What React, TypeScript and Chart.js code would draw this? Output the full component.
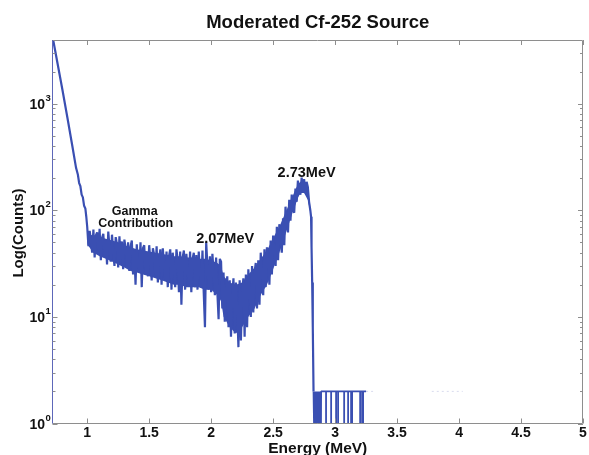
import React, { useEffect, useRef } from "react";
import { Chart, registerables } from "chart.js";

Chart.register(...registerables);

// ---------- text ----------
const TITLE = "Moderated Cf-252 Source";
const X_TITLE = "Energy (MeV)";
const Y_TITLE = "Log(Counts)";

// ---------- axes ----------
const X_MIN = 0.72;
const X_MAX = 5;
const Y_MIN = 1;
const Y_MAX = 3950;
const X_TICKS = [1, 1.5, 2, 2.5, 3, 3.5, 4, 4.5, 5];
const X_TICK_LABELS = ["1", "1.5", "2", "2.5", "3", "3.5", "4", "4.5", "5"];
const Y_DECADES = [1, 10, 100, 1000];
const Y_TICK_EXPONENTS = ["0", "1", "2", "3"];

// ---------- data ----------
// steep low-energy part (MeV, counts)
const steepEnergy = [0.715, 0.76, 0.8, 0.84, 0.88, 0.91, 0.925, 0.935, 0.945, 0.955, 0.965, 0.975, 0.985, 0.993];
const steepCounts = [4600, 2400, 1350, 740, 400, 250, 215, 180, 168, 140, 132, 110, 104, 86];

// noisy region, bins of 0.01 MeV starting at 1.00 MeV
const NOISY_START = 1.0;
const NOISY_BIN = 0.01;
const noisyCounts = [
  70, 46, 64, 52, 40, 66, 36, 58, 62, 41,
  67, 34, 55, 60, 37, 52, 31, 63, 45, 33,
  59, 40, 30, 56, 48, 29, 57, 35, 51, 28,
  53, 44, 30, 50, 27, 46, 52, 25, 42, 20,
  48, 30, 26, 50, 19, 44, 47, 25, 40, 24,
  47, 33, 22, 44, 38, 24, 46, 21, 35, 43,
  20, 44, 30, 22, 41, 19, 37, 43, 18, 40,
  28, 19, 43, 34, 17, 41, 13, 36, 42, 18,
  39, 27, 20, 41, 17, 35, 40, 19, 38, 18,
  41, 25, 19, 42, 17, 8, 50, 30, 18, 37,
  17, 39, 26, 16, 36, 17, 9.5, 35, 33, 12,
  26, 9, 18, 24, 8, 22, 6.5, 16, 23, 7,
  21, 12, 5.2, 22, 6, 17, 23, 6.5, 25, 8,
  28, 17, 10, 30, 11, 26, 32, 12, 34, 13,
  40, 26, 16, 43, 19, 45, 33, 20, 52, 25,
  58, 42, 30, 70, 34, 74, 52, 40, 84, 47,
  108, 75, 62, 125, 80, 140, 100, 95, 160, 120,
  190, 150, 140, 202, 155, 196, 145, 185, 165, 120,
  100,
];

// dense core of the noisy band (upper and lower edge of the solid part)
const coreEnergy = [
  1.0, 1.05, 1.1, 1.15, 1.2, 1.25, 1.3, 1.35, 1.4, 1.45, 1.5, 1.55, 1.6, 1.65, 1.7, 1.75, 1.8, 1.85, 1.9, 1.95,
  2.0, 2.05, 2.08, 2.1, 2.15, 2.2, 2.25, 2.3, 2.35, 2.4, 2.45, 2.5, 2.55, 2.6, 2.65, 2.7, 2.72, 2.75, 2.78, 2.8,
];
const coreUpper = [
  60, 58, 56, 54, 52, 50, 47, 45, 43, 42, 41, 40, 39, 38, 37, 37, 36, 36, 35, 35,
  34, 32, 30, 24, 21, 20, 21, 25, 29, 35, 42, 55, 70, 95, 130, 175, 185, 180, 155, 110,
];
const coreLower = [
  48, 40, 37, 35, 33, 31, 29, 27, 26, 25, 24, 23, 22, 21, 20, 20, 19, 19, 19, 18,
  18, 16, 14, 10, 8, 7, 8, 10, 12, 16, 20, 28, 40, 60, 90, 130, 145, 145, 125, 95,
];

// falling edge after the 2.73 MeV peak
const fallEnergy = [2.806, 2.81, 2.815, 2.82, 2.826];
const fallCounts = [87, 45, 21, 8, 2];

// high-energy tail: floor of 2 counts with drops to 1
const tailEnergy = [
  2.826, 2.83, 2.834, 2.838, 2.842, 2.846, 2.85, 2.854, 2.858, 2.862, 2.866, 2.87, 2.874, 2.878, 2.882, 2.886, 2.887,
  2.927, 2.927, 2.927,
  2.968, 2.968, 2.968,
  3.008, 3.008, 3.008,
  3.024, 3.024, 3.024,
  3.073, 3.073, 3.073,
  3.105, 3.105, 3.105,
  3.129, 3.129, 3.129,
  3.137, 3.137, 3.137,
  3.202, 3.202, 3.202,
  3.218, 3.218, 3.218,
  3.226, 3.226, 3.226,
  3.25,
];
const tailCounts = [
  2, 1, 2, 1, 2, 1, 2, 1, 2, 1, 2, 1, 2, 1, 2, 1, 2,
  2, 1, 2,
  2, 1, 2,
  2, 1, 2,
  2, 1, 2,
  2, 1, 2,
  2, 1, 2,
  2, 1, 2,
  2, 1, 2,
  2, 1, 2,
  2, 1, 2,
  2, 1, 2,
  2,
];

// faint remnants of the floor line
const faintEnergy = [3.25, 3.33, 3.33, 3.78, 4.03];
const faintCounts = [2, 2, null, 2, 2];

// annotations (data coordinates)
const annotationText = ["2.73MeV", "2.07MeV", "Gamma", "Contribution"];
const annotationEnergy = [2.77, 2.113, 1.383, 1.391];
const annotationCounts = [204, 49.2, 90, 69.5];

const LINE_COLOR = "#3a4fb2";
const FONT = "'Liberation Sans', Arial, Helvetica, sans-serif";

function pairs(xs: number[], ys: (number | null)[]) {
  return xs.map((x, i) => ({ x, y: ys[i] }));
}

const overlayPlugin = {
  id: "matlabOverlay",
  afterDraw(chart: any) {
    const { ctx, chartArea: a, scales } = chart;
    const xs = scales.x;
    const ys = scales.y;
    ctx.save();

    // box
    ctx.lineWidth = 1;
    ctx.strokeStyle = "#8e8e8e";
    ctx.beginPath();
    ctx.moveTo(a.left, a.top + 0.5);
    ctx.lineTo(a.right - 0.5, a.top + 0.5);
    ctx.lineTo(a.right - 0.5, a.bottom);
    ctx.lineTo(a.left, a.bottom);
    ctx.stroke();
    ctx.strokeStyle = "#5d67b9";
    ctx.beginPath();
    ctx.moveTo(a.left, a.top);
    ctx.lineTo(a.left, a.bottom);
    ctx.stroke();

    // x ticks (inward, bottom & top)
    ctx.strokeStyle = "#8e8e8e";
    ctx.beginPath();
    X_TICKS.forEach((v) => {
      const px = Math.round(xs.getPixelForValue(v)) + 0.5;
      ctx.moveTo(px, a.bottom);
      ctx.lineTo(px, a.bottom - 5);
      ctx.moveTo(px, a.top);
      ctx.lineTo(px, a.top + 5);
    });
    ctx.stroke();

    // y ticks (major + minor, inward, left & right)
    ctx.beginPath();
    Y_DECADES.forEach((d) => {
      for (let m = 1; m <= 9; m++) {
        const v = d * m;
        if (v < Y_MIN || v > Y_MAX) continue;
        const py = Math.round(ys.getPixelForValue(v)) + 0.5;
        const len = m === 1 ? 5 : 3;
        ctx.moveTo(a.left, py);
        ctx.lineTo(a.left + len, py);
        ctx.moveTo(a.right, py);
        ctx.lineTo(a.right - len, py);
      }
    });
    ctx.stroke();

    ctx.fillStyle = "#111";
    // x tick labels
    ctx.font = `bold 14px ${FONT}`;
    ctx.textAlign = "center";
    ctx.textBaseline = "alphabetic";
    X_TICKS.forEach((v, i) => {
      ctx.fillText(X_TICK_LABELS[i], xs.getPixelForValue(v), a.bottom + 13.5);
    });

    // y tick labels with superscripts
    Y_DECADES.forEach((d, i) => {
      const py = ys.getPixelForValue(d);
      ctx.font = `bold 14px ${FONT}`;
      ctx.textAlign = "right";
      ctx.fillText("10", 45, py + 5);
      ctx.font = `bold 9.5px ${FONT}`;
      ctx.textAlign = "left";
      ctx.fillText(Y_TICK_EXPONENTS[i], 45.5, py - 3);
    });

    // title
    const cx = (a.left + a.right) / 2;
    ctx.textAlign = "center";
    ctx.font = `bold 18.5px ${FONT}`;
    ctx.fillText(TITLE, cx, 28);

    // x title
    ctx.font = `bold 15.5px ${FONT}`;
    ctx.fillText(X_TITLE, cx, 453);

    // y title
    ctx.save();
    ctx.translate(23, 233);
    ctx.rotate(-Math.PI / 2);
    ctx.font = `bold 15px ${FONT}`;
    ctx.fillText(Y_TITLE, 0, 0);
    ctx.restore();

    // annotations
    annotationText.forEach((t, i) => {
      ctx.font = i < 2 ? `bold 14.5px ${FONT}` : `bold 12.5px ${FONT}`;
      ctx.fillText(t, xs.getPixelForValue(annotationEnergy[i]), ys.getPixelForValue(annotationCounts[i]));
    });

    ctx.restore();
  },
};

export default function App() {
  const canvasRef = useRef<HTMLCanvasElement | null>(null);

  useEffect(() => {
    const canvas = canvasRef.current;
    if (!canvas) return;

    const noisyData = noisyCounts.map((c, i) => ({ x: NOISY_START + i * NOISY_BIN, y: c }));
    const mainData = [...pairs(steepEnergy, steepCounts), ...noisyData, ...pairs(fallEnergy, fallCounts)];

    const chart = new Chart(canvas, {
      type: "line",
      data: {
        datasets: [
          {
            data: mainData as any,
            borderColor: LINE_COLOR,
            borderWidth: 2.2,
            pointRadius: 0,
            tension: 0,
            borderJoinStyle: "bevel",
            spanGaps: false,
            fill: false,
            clip: 0 as any,
            order: 1,
          },
          {
            data: pairs(coreEnergy, coreUpper) as any,
            borderWidth: 0,
            borderColor: "rgba(0,0,0,0)",
            backgroundColor: LINE_COLOR,
            pointRadius: 0,
            tension: 0,
            fill: "+1",
            clip: 0 as any,
            order: 3,
          },
          {
            data: pairs(coreEnergy, coreLower) as any,
            borderWidth: 0,
            borderColor: "rgba(0,0,0,0)",
            backgroundColor: LINE_COLOR,
            pointRadius: 0,
            tension: 0,
            fill: false,
            clip: 0 as any,
            order: 3,
          },
          {
            data: pairs(tailEnergy, tailCounts) as any,
            borderColor: LINE_COLOR,
            borderWidth: 1.8,
            pointRadius: 0,
            tension: 0,
            borderJoinStyle: "bevel",
            spanGaps: false,
            fill: false,
            clip: 0 as any,
            order: 1,
          },
          {
            data: pairs(faintEnergy, faintCounts) as any,
            borderColor: "rgba(185,192,225,0.55)",
            borderWidth: 1,
            borderDash: [2, 3],
            pointRadius: 0,
            tension: 0,
            spanGaps: false,
            fill: false,
            clip: 0 as any,
            order: 2,
          },
        ],
      },
      options: {
        responsive: false,
        animation: false,
        parsing: true,
        layout: { padding: { left: 52.5, top: 40, right: 6, bottom: 31.5 } },
        plugins: { legend: { display: false }, tooltip: { enabled: false }, title: { display: false } },
        scales: {
          x: { type: "linear", min: X_MIN, max: X_MAX, display: false },
          y: { type: "logarithmic", min: Y_MIN, max: Y_MAX, display: false },
        },
      },
      plugins: [overlayPlugin],
    });

    return () => chart.destroy();
  }, []);

  return (
    <div style={{ position: "fixed", left: 0, top: 0, width: 589, height: 455, background: "#fff" }}>
      <canvas ref={canvasRef} width={589} height={455} style={{ display: "block" }} />
    </div>
  );
}
